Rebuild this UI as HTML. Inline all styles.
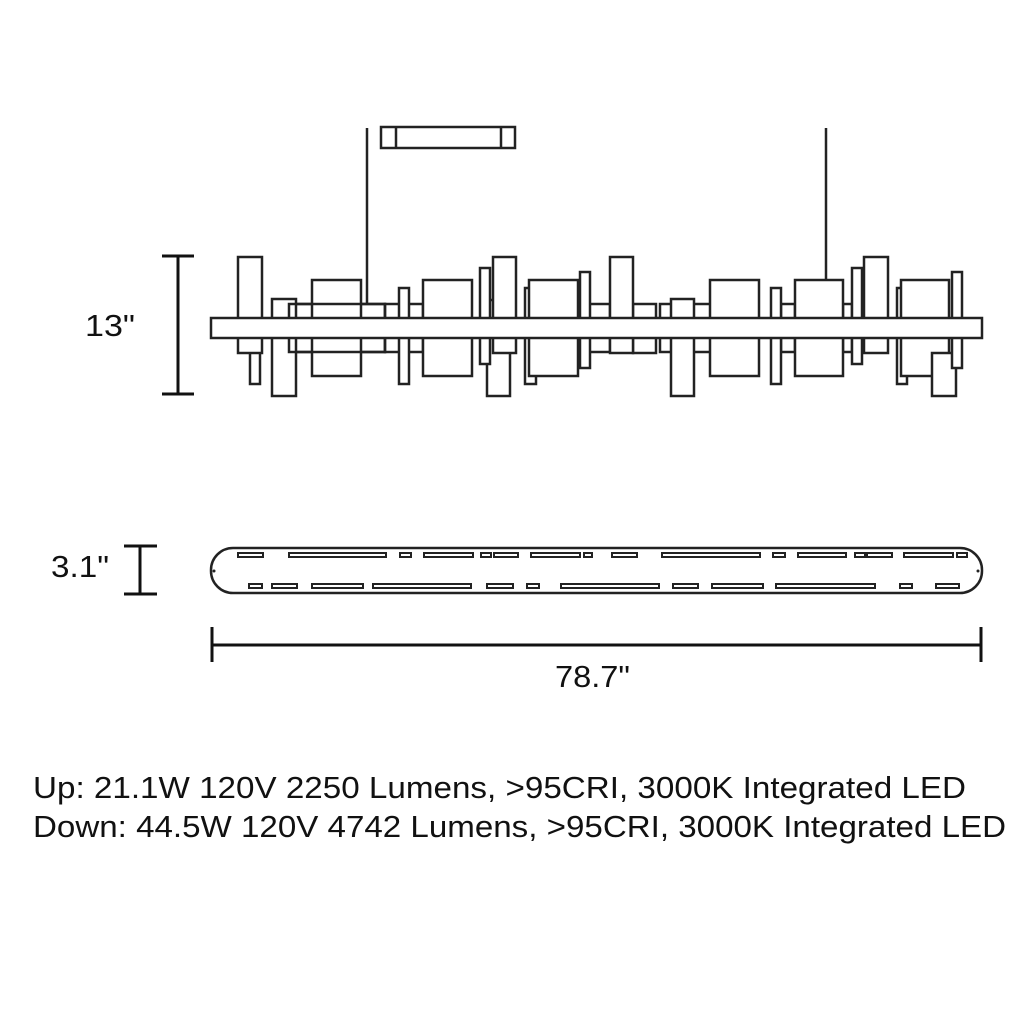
<!DOCTYPE html>
<html><head><style>
body{margin:0;background:#fff;width:1024px;height:1024px;overflow:hidden}
svg{position:absolute;left:0;top:0}
</style></head><body>
<svg width="1024" height="1024" viewBox="0 0 1024 1024" font-family="Liberation Sans, sans-serif">
<g fill="#fff" stroke="#222" stroke-width="2.5">
<rect x="381" y="127" width="134" height="21"/>
<line x1="396" y1="127" x2="396" y2="148"/><line x1="501" y1="127" x2="501" y2="148"/>
<line x1="367" y1="128" x2="367" y2="304"/>
<line x1="826" y1="128" x2="826" y2="280"/>
<rect x="289" y="304" width="96" height="48"/>
<rect x="385" y="304" width="38" height="48"/>
<rect x="578" y="304" width="32" height="48"/>
<rect x="633" y="304" width="23" height="49"/>
<rect x="660" y="304" width="97" height="48"/>
<rect x="781" y="304" width="14" height="48"/>
<rect x="843" y="304" width="9" height="48"/>
<rect x="671" y="299" width="23" height="97"/>
<rect x="312" y="280" width="49" height="96"/>
<rect x="423" y="280" width="49" height="96"/>
<rect x="525" y="288" width="11" height="96"/>
<rect x="529" y="280" width="49" height="96"/>
<rect x="710" y="280" width="49" height="96"/>
<rect x="795" y="280" width="48" height="96"/>
<rect x="897" y="288" width="10" height="96"/>
<rect x="901" y="280" width="48" height="96"/>
<rect x="932" y="353" width="24" height="43"/>
<rect x="250" y="340" width="10" height="44"/>
<rect x="238" y="257" width="24" height="96"/>
<rect x="272" y="299" width="24" height="97"/>
<rect x="289" y="304" width="96" height="48" fill="none"/>
<rect x="399" y="288" width="10" height="96"/>
<rect x="487" y="300" width="23" height="96"/>
<rect x="480" y="268" width="10" height="96"/>
<rect x="493" y="257" width="23" height="96"/>
<rect x="580" y="272" width="10" height="96"/>
<rect x="610" y="257" width="23" height="96"/>
<rect x="771" y="288" width="10" height="96"/>
<rect x="852" y="268" width="10" height="96"/>
<rect x="864" y="257" width="24" height="96"/>
<rect x="952" y="272" width="10" height="96"/>
<rect x="211" y="318" width="771" height="20"/>
<rect x="211" y="548" width="771" height="45" rx="22" ry="22"/>
</g>
<g fill="none" stroke="#222" stroke-width="2">
<path d="M238 553h25v4h-25zM289 553h97v4h-97zM400 553h11v4h-11zM424 553h49v4h-49zM481 553h10v4h-10zM494 553h24v4h-24zM531 553h49v4h-49zM584 553h8v4h-8zM612 553h25v4h-25zM662 553h98v4h-98zM773 553h12v4h-12zM798 553h48v4h-48zM855 553h10v4h-10zM867 553h25v4h-25zM904 553h49v4h-49zM957 553h10v4h-10z"/>
<path d="M249 584h13v4h-13zM272 584h25v4h-25zM312 584h51v4h-51zM373 584h98v4h-98zM487 584h26v4h-26zM527 584h12v4h-12zM561 584h98v4h-98zM673 584h25v4h-25zM712 584h51v4h-51zM776 584h99v4h-99zM900 584h12v4h-12zM936 584h23v4h-23z"/>
</g>
<circle cx="214" cy="571" r="1.5" fill="#222"/><circle cx="978" cy="571" r="1.5" fill="#222"/>
<g stroke="#111" stroke-width="3">
<line x1="178" y1="256" x2="178" y2="394"/><line x1="162" y1="256" x2="194" y2="256"/><line x1="162" y1="394" x2="194" y2="394"/>
<line x1="140" y1="546" x2="140" y2="594"/><line x1="124" y1="546" x2="157" y2="546"/><line x1="124" y1="594" x2="157" y2="594"/>
<line x1="212" y1="645" x2="981" y2="645"/><line x1="212" y1="627" x2="212" y2="662"/><line x1="981" y1="627" x2="981" y2="662"/>
</g>
<g fill="#111" font-size="31">
<text x="85" y="336" textLength="50" lengthAdjust="spacingAndGlyphs">13"</text>
<text x="51" y="577" textLength="58" lengthAdjust="spacingAndGlyphs">3.1"</text>
<text x="555" y="687" textLength="75" lengthAdjust="spacingAndGlyphs">78.7"</text>
<text x="33" y="798" textLength="933" lengthAdjust="spacingAndGlyphs">Up: 21.1W 120V 2250 Lumens, &gt;95CRI, 3000K Integrated LED</text>
<text x="33" y="837" textLength="973" lengthAdjust="spacingAndGlyphs">Down: 44.5W 120V 4742 Lumens, &gt;95CRI, 3000K Integrated LED</text>
</g>
</svg>
</body></html>
